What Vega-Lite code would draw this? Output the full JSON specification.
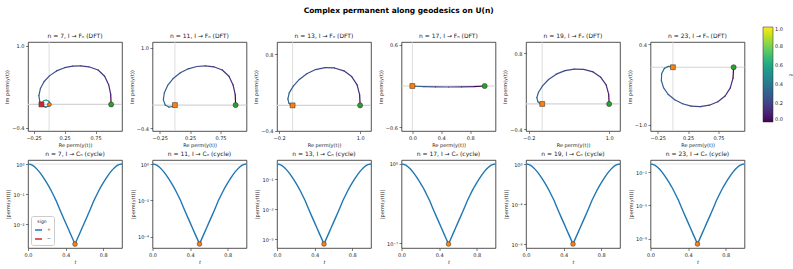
{
"$schema": "https://vega.github.io/schema/vega-lite/v6.json",
"padding": {"left": 4, "top": 7, "right": 2, "bottom": 2},
"title": {"text": "Complex permanent along geodesics on U(n)", "fontSize": 7.5, "fontWeight": "bold", "anchor": "middle", "offset": 12.5, "color": "#000000"},
"datasets": {
"zero": [{"v": 0}],
"dft": [
{"n":7,"t":0,"re":1,"im":0},{"n":7,"t":0.11,"re":0.993,"im":0.17},{"n":7,"t":0.13,"re":0.96,"im":0.335},{"n":7,"t":0.15,"re":0.895,"im":0.48},{"n":7,"t":0.165,"re":0.79,"im":0.585},{"n":7,"t":0.18,"re":0.64,"im":0.64},{"n":7,"t":0.195,"re":0.51,"im":0.655},{"n":7,"t":0.21,"re":0.38,"im":0.652},{"n":7,"t":0.225,"re":0.25,"im":0.625},{"n":7,"t":0.24,"re":0.12,"im":0.57},{"n":7,"t":0.255,"re":0.01,"im":0.49},{"n":7,"t":0.27,"re":-0.08,"im":0.39},{"n":7,"t":0.285,"re":-0.14,"im":0.27},{"n":7,"t":0.3,"re":-0.165,"im":0.15},{"n":7,"t":0.315,"re":-0.15,"im":0.05},{"n":7,"t":0.325,"re":-0.11,"im":-0.02},{"n":7,"t":0.34,"re":-0.055,"im":-0.045},{"n":7,"t":0.37,"re":-0.005,"im":-0.025},{"n":7,"t":0.42,"re":0.015,"im":0.015},{"n":7,"t":0.5,"re":-0.005,"im":0.055},{"n":7,"t":0.58,"re":-0.045,"im":0.075},{"n":7,"t":0.66,"re":-0.085,"im":0.065},{"n":7,"t":0.74,"re":-0.11,"im":0.04},{"n":7,"t":0.82,"re":-0.12,"im":0.018},{"n":7,"t":0.9,"re":-0.123,"im":0.006},{"n":7,"t":1,"re":-0.124,"im":0},
{"n":11,"t":0,"re":1,"im":0},{"n":11,"t":0.11,"re":0.993,"im":0.18},{"n":11,"t":0.13,"re":0.958,"im":0.35},{"n":11,"t":0.15,"re":0.89,"im":0.5},{"n":11,"t":0.17,"re":0.78,"im":0.61},{"n":11,"t":0.19,"re":0.64,"im":0.665},{"n":11,"t":0.21,"re":0.5,"im":0.68},{"n":11,"t":0.23,"re":0.36,"im":0.67},{"n":11,"t":0.25,"re":0.22,"im":0.63},{"n":11,"t":0.27,"re":0.09,"im":0.56},{"n":11,"t":0.29,"re":-0.03,"im":0.46},{"n":11,"t":0.31,"re":-0.12,"im":0.34},{"n":11,"t":0.33,"re":-0.175,"im":0.21},{"n":11,"t":0.35,"re":-0.19,"im":0.09},{"n":11,"t":0.37,"re":-0.16,"im":0},{"n":11,"t":0.39,"re":-0.1,"im":-0.035},{"n":11,"t":0.42,"re":-0.04,"im":-0.025},{"n":11,"t":0.46,"re":-0.005,"im":-0.005},{"n":11,"t":0.52,"re":0,"im":0},
{"n":13,"t":0,"re":1,"im":0},{"n":13,"t":0.11,"re":0.993,"im":0.165},{"n":13,"t":0.13,"re":0.955,"im":0.32},{"n":13,"t":0.15,"re":0.875,"im":0.45},{"n":13,"t":0.17,"re":0.76,"im":0.54},{"n":13,"t":0.19,"re":0.62,"im":0.585},{"n":13,"t":0.21,"re":0.48,"im":0.59},{"n":13,"t":0.23,"re":0.34,"im":0.56},{"n":13,"t":0.25,"re":0.21,"im":0.495},{"n":13,"t":0.27,"re":0.1,"im":0.405},{"n":13,"t":0.29,"re":0.01,"im":0.3},{"n":13,"t":0.31,"re":-0.05,"im":0.195},{"n":13,"t":0.33,"re":-0.07,"im":0.1},{"n":13,"t":0.35,"re":-0.055,"im":0.035},{"n":13,"t":0.37,"re":-0.025,"im":0.005},{"n":13,"t":0.41,"re":0,"im":0},
{"n":17,"t":0,"re":1,"im":0},{"n":17,"t":0.14,"re":0.85,"im":-0.008},{"n":17,"t":0.18,"re":0.68,"im":-0.013},{"n":17,"t":0.22,"re":0.5,"im":-0.015},{"n":17,"t":0.26,"re":0.32,"im":-0.014},{"n":17,"t":0.3,"re":0.16,"im":-0.01},{"n":17,"t":0.35,"re":0.05,"im":-0.004},{"n":17,"t":0.4,"re":0,"im":0},
{"n":19,"t":0,"re":1,"im":0},{"n":19,"t":0.11,"re":0.993,"im":0.155},{"n":19,"t":0.13,"re":0.955,"im":0.3},{"n":19,"t":0.15,"re":0.875,"im":0.42},{"n":19,"t":0.17,"re":0.76,"im":0.505},{"n":19,"t":0.19,"re":0.62,"im":0.545},{"n":19,"t":0.21,"re":0.48,"im":0.55},{"n":19,"t":0.23,"re":0.34,"im":0.525},{"n":19,"t":0.25,"re":0.21,"im":0.47},{"n":19,"t":0.27,"re":0.095,"im":0.385},{"n":19,"t":0.29,"re":0.005,"im":0.285},{"n":19,"t":0.31,"re":-0.055,"im":0.185},{"n":19,"t":0.33,"re":-0.08,"im":0.1},{"n":19,"t":0.35,"re":-0.065,"im":0.035},{"n":19,"t":0.37,"re":-0.03,"im":0.005},{"n":19,"t":0.41,"re":0,"im":0},
{"n":23,"t":0,"re":1,"im":0},{"n":23,"t":0.11,"re":0.99,"im":-0.19},{"n":23,"t":0.13,"re":0.945,"im":-0.36},{"n":23,"t":0.15,"re":0.86,"im":-0.5},{"n":23,"t":0.17,"re":0.74,"im":-0.6},{"n":23,"t":0.19,"re":0.6,"im":-0.66},{"n":23,"t":0.21,"re":0.45,"im":-0.685},{"n":23,"t":0.23,"re":0.3,"im":-0.675},{"n":23,"t":0.25,"re":0.16,"im":-0.635},{"n":23,"t":0.27,"re":0.03,"im":-0.565},{"n":23,"t":0.29,"re":-0.08,"im":-0.47},{"n":23,"t":0.31,"re":-0.155,"im":-0.355},{"n":23,"t":0.33,"re":-0.19,"im":-0.23},{"n":23,"t":0.35,"re":-0.185,"im":-0.11},{"n":23,"t":0.37,"re":-0.14,"im":-0.02},{"n":23,"t":0.39,"re":-0.075,"im":0.015},{"n":23,"t":0.42,"re":-0.02,"im":0.01},{"n":23,"t":0.46,"re":0,"im":0}
],
"mk": [
{"n":7,"kind":"start","re":1,"im":0},{"n":7,"kind":"end","re":-0.124,"im":0},{"n":7,"kind":"mid","re":0.005,"im":0},
{"n":11,"kind":"start","re":1,"im":0},{"n":11,"kind":"end","re":0,"im":0},
{"n":13,"kind":"start","re":1,"im":0},{"n":13,"kind":"end","re":0,"im":0},
{"n":17,"kind":"start","re":1,"im":0},{"n":17,"kind":"end","re":0,"im":0},
{"n":19,"kind":"start","re":1,"im":0},{"n":19,"kind":"end","re":0,"im":0},
{"n":23,"kind":"start","re":1,"im":0},{"n":23,"kind":"end","re":0,"im":0}
],
"cyc": [
{"n":7,"t":0,"lg":0},{"n":7,"t":0.025,"lg":-0.013},{"n":7,"t":0.05,"lg":-0.048},{"n":7,"t":0.075,"lg":-0.107},{"n":7,"t":0.1,"lg":-0.187},{"n":7,"t":0.125,"lg":-0.28},{"n":7,"t":0.15,"lg":-0.387},{"n":7,"t":0.175,"lg":-0.507},{"n":7,"t":0.2,"lg":-0.627},{"n":7,"t":0.225,"lg":-0.761},{"n":7,"t":0.25,"lg":-0.908},{"n":7,"t":0.275,"lg":-1.068},{"n":7,"t":0.3,"lg":-1.228},{"n":7,"t":0.325,"lg":-1.415},{"n":7,"t":0.35,"lg":-1.602},{"n":7,"t":0.375,"lg":-1.781},{"n":7,"t":0.4,"lg":-1.957},{"n":7,"t":0.425,"lg":-2.136},{"n":7,"t":0.45,"lg":-2.315},{"n":7,"t":0.475,"lg":-2.491},{"n":7,"t":0.5,"lg":-2.67},{"n":7,"t":0.525,"lg":-2.491},{"n":7,"t":0.55,"lg":-2.315},{"n":7,"t":0.575,"lg":-2.136},{"n":7,"t":0.6,"lg":-1.957},{"n":7,"t":0.625,"lg":-1.781},{"n":7,"t":0.65,"lg":-1.602},{"n":7,"t":0.675,"lg":-1.415},{"n":7,"t":0.7,"lg":-1.228},{"n":7,"t":0.725,"lg":-1.068},{"n":7,"t":0.75,"lg":-0.908},{"n":7,"t":0.775,"lg":-0.761},{"n":7,"t":0.8,"lg":-0.627},{"n":7,"t":0.825,"lg":-0.507},{"n":7,"t":0.85,"lg":-0.387},{"n":7,"t":0.875,"lg":-0.28},{"n":7,"t":0.9,"lg":-0.187},{"n":7,"t":0.925,"lg":-0.107},{"n":7,"t":0.95,"lg":-0.048},{"n":7,"t":0.975,"lg":-0.013},{"n":7,"t":1,"lg":0},
{"n":11,"t":0,"lg":0},{"n":11,"t":0.025,"lg":-0.022},{"n":11,"t":0.05,"lg":-0.079},{"n":11,"t":0.075,"lg":-0.176},{"n":11,"t":0.1,"lg":-0.308},{"n":11,"t":0.125,"lg":-0.462},{"n":11,"t":0.15,"lg":-0.638},{"n":11,"t":0.175,"lg":-0.836},{"n":11,"t":0.2,"lg":-1.034},{"n":11,"t":0.225,"lg":-1.254},{"n":11,"t":0.25,"lg":-1.496},{"n":11,"t":0.275,"lg":-1.76},{"n":11,"t":0.3,"lg":-2.024},{"n":11,"t":0.325,"lg":-2.332},{"n":11,"t":0.35,"lg":-2.64},{"n":11,"t":0.375,"lg":-2.935},{"n":11,"t":0.4,"lg":-3.225},{"n":11,"t":0.425,"lg":-3.52},{"n":11,"t":0.45,"lg":-3.815},{"n":11,"t":0.475,"lg":-4.105},{"n":11,"t":0.5,"lg":-4.4},{"n":11,"t":0.525,"lg":-4.105},{"n":11,"t":0.55,"lg":-3.815},{"n":11,"t":0.575,"lg":-3.52},{"n":11,"t":0.6,"lg":-3.225},{"n":11,"t":0.625,"lg":-2.935},{"n":11,"t":0.65,"lg":-2.64},{"n":11,"t":0.675,"lg":-2.332},{"n":11,"t":0.7,"lg":-2.024},{"n":11,"t":0.725,"lg":-1.76},{"n":11,"t":0.75,"lg":-1.496},{"n":11,"t":0.775,"lg":-1.254},{"n":11,"t":0.8,"lg":-1.034},{"n":11,"t":0.825,"lg":-0.836},{"n":11,"t":0.85,"lg":-0.638},{"n":11,"t":0.875,"lg":-0.462},{"n":11,"t":0.9,"lg":-0.308},{"n":11,"t":0.925,"lg":-0.176},{"n":11,"t":0.95,"lg":-0.079},{"n":11,"t":0.975,"lg":-0.022},{"n":11,"t":1,"lg":0},
{"n":13,"t":0,"lg":0},{"n":13,"t":0.025,"lg":-0.027},{"n":13,"t":0.05,"lg":-0.095},{"n":13,"t":0.075,"lg":-0.212},{"n":13,"t":0.1,"lg":-0.371},{"n":13,"t":0.125,"lg":-0.557},{"n":13,"t":0.15,"lg":-0.769},{"n":13,"t":0.175,"lg":-1.007},{"n":13,"t":0.2,"lg":-1.246},{"n":13,"t":0.225,"lg":-1.511},{"n":13,"t":0.25,"lg":-1.802},{"n":13,"t":0.275,"lg":-2.12},{"n":13,"t":0.3,"lg":-2.438},{"n":13,"t":0.325,"lg":-2.809},{"n":13,"t":0.35,"lg":-3.18},{"n":13,"t":0.375,"lg":-3.535},{"n":13,"t":0.4,"lg":-3.885},{"n":13,"t":0.425,"lg":-4.24},{"n":13,"t":0.45,"lg":-4.595},{"n":13,"t":0.475,"lg":-4.945},{"n":13,"t":0.5,"lg":-5.3},{"n":13,"t":0.525,"lg":-4.945},{"n":13,"t":0.55,"lg":-4.595},{"n":13,"t":0.575,"lg":-4.24},{"n":13,"t":0.6,"lg":-3.885},{"n":13,"t":0.625,"lg":-3.535},{"n":13,"t":0.65,"lg":-3.18},{"n":13,"t":0.675,"lg":-2.809},{"n":13,"t":0.7,"lg":-2.438},{"n":13,"t":0.725,"lg":-2.12},{"n":13,"t":0.75,"lg":-1.802},{"n":13,"t":0.775,"lg":-1.511},{"n":13,"t":0.8,"lg":-1.246},{"n":13,"t":0.825,"lg":-1.007},{"n":13,"t":0.85,"lg":-0.769},{"n":13,"t":0.875,"lg":-0.557},{"n":13,"t":0.9,"lg":-0.371},{"n":13,"t":0.925,"lg":-0.212},{"n":13,"t":0.95,"lg":-0.095},{"n":13,"t":0.975,"lg":-0.027},{"n":13,"t":1,"lg":0},
{"n":17,"t":0,"lg":0},{"n":17,"t":0.025,"lg":-0.035},{"n":17,"t":0.05,"lg":-0.127},{"n":17,"t":0.075,"lg":-0.282},{"n":17,"t":0.1,"lg":-0.494},{"n":17,"t":0.125,"lg":-0.74},{"n":17,"t":0.15,"lg":-1.022},{"n":17,"t":0.175,"lg":-1.34},{"n":17,"t":0.2,"lg":-1.657},{"n":17,"t":0.225,"lg":-2.009},{"n":17,"t":0.25,"lg":-2.397},{"n":17,"t":0.275,"lg":-2.82},{"n":17,"t":0.3,"lg":-3.243},{"n":17,"t":0.325,"lg":-3.737},{"n":17,"t":0.35,"lg":-4.23},{"n":17,"t":0.375,"lg":-4.702},{"n":17,"t":0.4,"lg":-5.168},{"n":17,"t":0.425,"lg":-5.64},{"n":17,"t":0.45,"lg":-6.112},{"n":17,"t":0.475,"lg":-6.578},{"n":17,"t":0.5,"lg":-7.05},{"n":17,"t":0.525,"lg":-6.578},{"n":17,"t":0.55,"lg":-6.112},{"n":17,"t":0.575,"lg":-5.64},{"n":17,"t":0.6,"lg":-5.168},{"n":17,"t":0.625,"lg":-4.702},{"n":17,"t":0.65,"lg":-4.23},{"n":17,"t":0.675,"lg":-3.737},{"n":17,"t":0.7,"lg":-3.243},{"n":17,"t":0.725,"lg":-2.82},{"n":17,"t":0.75,"lg":-2.397},{"n":17,"t":0.775,"lg":-2.009},{"n":17,"t":0.8,"lg":-1.657},{"n":17,"t":0.825,"lg":-1.34},{"n":17,"t":0.85,"lg":-1.022},{"n":17,"t":0.875,"lg":-0.74},{"n":17,"t":0.9,"lg":-0.494},{"n":17,"t":0.925,"lg":-0.282},{"n":17,"t":0.95,"lg":-0.127},{"n":17,"t":0.975,"lg":-0.035},{"n":17,"t":1,"lg":0},
{"n":19,"t":0,"lg":0},{"n":19,"t":0.025,"lg":-0.04},{"n":19,"t":0.05,"lg":-0.143},{"n":19,"t":0.075,"lg":-0.318},{"n":19,"t":0.1,"lg":-0.557},{"n":19,"t":0.125,"lg":-0.835},{"n":19,"t":0.15,"lg":-1.153},{"n":19,"t":0.175,"lg":-1.511},{"n":19,"t":0.2,"lg":-1.868},{"n":19,"t":0.225,"lg":-2.266},{"n":19,"t":0.25,"lg":-2.703},{"n":19,"t":0.275,"lg":-3.18},{"n":19,"t":0.3,"lg":-3.657},{"n":19,"t":0.325,"lg":-4.214},{"n":19,"t":0.35,"lg":-4.77},{"n":19,"t":0.375,"lg":-5.303},{"n":19,"t":0.4,"lg":-5.827},{"n":19,"t":0.425,"lg":-6.36},{"n":19,"t":0.45,"lg":-6.893},{"n":19,"t":0.475,"lg":-7.417},{"n":19,"t":0.5,"lg":-7.95},{"n":19,"t":0.525,"lg":-7.417},{"n":19,"t":0.55,"lg":-6.893},{"n":19,"t":0.575,"lg":-6.36},{"n":19,"t":0.6,"lg":-5.827},{"n":19,"t":0.625,"lg":-5.303},{"n":19,"t":0.65,"lg":-4.77},{"n":19,"t":0.675,"lg":-4.214},{"n":19,"t":0.7,"lg":-3.657},{"n":19,"t":0.725,"lg":-3.18},{"n":19,"t":0.75,"lg":-2.703},{"n":19,"t":0.775,"lg":-2.266},{"n":19,"t":0.8,"lg":-1.868},{"n":19,"t":0.825,"lg":-1.511},{"n":19,"t":0.85,"lg":-1.153},{"n":19,"t":0.875,"lg":-0.835},{"n":19,"t":0.9,"lg":-0.557},{"n":19,"t":0.925,"lg":-0.318},{"n":19,"t":0.95,"lg":-0.143},{"n":19,"t":0.975,"lg":-0.04},{"n":19,"t":1,"lg":0},
{"n":23,"t":0,"lg":0},{"n":23,"t":0.025,"lg":-0.048},{"n":23,"t":0.05,"lg":-0.174},{"n":23,"t":0.075,"lg":-0.386},{"n":23,"t":0.1,"lg":-0.676},{"n":23,"t":0.125,"lg":-1.013},{"n":23,"t":0.15,"lg":-1.399},{"n":23,"t":0.175,"lg":-1.834},{"n":23,"t":0.2,"lg":-2.268},{"n":23,"t":0.225,"lg":-2.75},{"n":23,"t":0.25,"lg":-3.281},{"n":23,"t":0.275,"lg":-3.86},{"n":23,"t":0.3,"lg":-4.439},{"n":23,"t":0.325,"lg":-5.115},{"n":23,"t":0.35,"lg":-5.79},{"n":23,"t":0.375,"lg":-6.437},{"n":23,"t":0.4,"lg":-7.073},{"n":23,"t":0.425,"lg":-7.72},{"n":23,"t":0.45,"lg":-8.367},{"n":23,"t":0.475,"lg":-9.003},{"n":23,"t":0.5,"lg":-9.65},{"n":23,"t":0.525,"lg":-9.003},{"n":23,"t":0.55,"lg":-8.367},{"n":23,"t":0.575,"lg":-7.72},{"n":23,"t":0.6,"lg":-7.073},{"n":23,"t":0.625,"lg":-6.437},{"n":23,"t":0.65,"lg":-5.79},{"n":23,"t":0.675,"lg":-5.115},{"n":23,"t":0.7,"lg":-4.439},{"n":23,"t":0.725,"lg":-3.86},{"n":23,"t":0.75,"lg":-3.281},{"n":23,"t":0.775,"lg":-2.75},{"n":23,"t":0.8,"lg":-2.268},{"n":23,"t":0.825,"lg":-1.834},{"n":23,"t":0.85,"lg":-1.399},{"n":23,"t":0.875,"lg":-1.013},{"n":23,"t":0.9,"lg":-0.676},{"n":23,"t":0.925,"lg":-0.386},{"n":23,"t":0.95,"lg":-0.174},{"n":23,"t":0.975,"lg":-0.048},{"n":23,"t":1,"lg":0}
]
},
"columns": 6,
"spacing": {"row": 29, "column": 30.5},
"bounds": "flush",
"concat": [
{"width": 94, "height": 89, "title": "n = 7, I → Fₙ (DFT)",
 "layer": [
  {"data": {"name": "zero"}, "mark": {"type": "rule", "color": "#d4d4d4", "strokeWidth": 1.2}, "encoding": {"y": {"field": "v", "type": "quantitative"}}},
  {"data": {"name": "zero"}, "mark": {"type": "rule", "color": "#d4d4d4", "strokeWidth": 0.8}, "encoding": {"x": {"field": "v", "type": "quantitative"}}},
  {"data": {"name": "dft"}, "transform": [{"filter": "datum.n == 7"}, {"window": [{"op": "lead", "field": "re", "as": "re2"}, {"op": "lead", "field": "im", "as": "im2"}], "sort": [{"field": "t"}]}, {"filter": "datum.re2 != null"}],
   "mark": {"type": "rule", "strokeWidth": 1.2, "strokeCap": "round"},
   "encoding": {
    "x": {"field": "re", "type": "quantitative", "scale": {"domain": [-0.34, 1.175], "nice": false, "zero": false}, "axis": {"title": "Re perm(y(t))", "values": [-0.25, 0, 0.25, 0.5, 0.75, 1], "format": ".2f", "labelOverlap": false}},
    "y": {"field": "im", "type": "quantitative", "scale": {"domain": [-0.452, 1.062], "nice": false, "zero": false}, "axis": {"title": "Im perm(y(t))", "values": [-0.4, -0.2, 0, 0.2, 0.4, 0.6, 0.8, 1], "format": ".1f", "labelOverlap": false}},
    "x2": {"field": "re2"}, "y2": {"field": "im2"},
    "color": {"field": "t", "type": "quantitative", "scale": {"scheme": "viridis", "domain": [0, 1]}, "legend": {"title": "t", "orient": "none", "legendX": 735, "legendY": -15, "direction": "vertical", "gradientLength": 95, "gradientThickness": 10, "values": [0, 0.2, 0.4, 0.6, 0.8, 1], "format": ".1f", "labelFontSize": 5, "titleFontSize": 5.5, "titleFontStyle": "italic", "titleFontWeight": "normal", "titleOrient": "right", "gradientStrokeColor": "#262626", "gradientStrokeWidth": 0.5, "labelOverlap": false}}
   }},
  {"data": {"name": "mk"}, "transform": [{"filter": "datum.n == 7 && datum.kind == 'mid'"}], "mark": {"type": "point", "shape": "circle", "filled": true, "fill": "#ff7f0e", "stroke": "#262626", "strokeWidth": 0.5, "size": 16, "opacity": 1}, "encoding": {"x": {"field": "re", "type": "quantitative"}, "y": {"field": "im", "type": "quantitative"}}},
  {"data": {"name": "mk"}, "transform": [{"filter": "datum.n == 7 && datum.kind == 'end'"}], "mark": {"type": "point", "shape": "square", "filled": true, "fill": "#d62728", "stroke": "#262626", "strokeWidth": 0.5, "size": 24, "opacity": 1}, "encoding": {"x": {"field": "re", "type": "quantitative"}, "y": {"field": "im", "type": "quantitative"}}},
  {"data": {"name": "mk"}, "transform": [{"filter": "datum.n == 7 && datum.kind == 'start'"}], "mark": {"type": "point", "shape": "circle", "filled": true, "fill": "#2ca02c", "stroke": "#262626", "strokeWidth": 0.5, "size": 26, "opacity": 1}, "encoding": {"x": {"field": "re", "type": "quantitative"}, "y": {"field": "im", "type": "quantitative"}}}
 ]},
{"width": 94, "height": 89, "title": "n = 11, I → Fₙ (DFT)",
 "layer": [
  {"data": {"name": "zero"}, "mark": {"type": "rule", "color": "#d4d4d4", "strokeWidth": 1.2}, "encoding": {"y": {"field": "v", "type": "quantitative"}}},
  {"data": {"name": "zero"}, "mark": {"type": "rule", "color": "#d4d4d4", "strokeWidth": 0.8}, "encoding": {"x": {"field": "v", "type": "quantitative"}}},
  {"data": {"name": "dft"}, "transform": [{"filter": "datum.n == 11"}, {"window": [{"op": "lead", "field": "re", "as": "re2"}, {"op": "lead", "field": "im", "as": "im2"}], "sort": [{"field": "t"}]}, {"filter": "datum.re2 != null"}],
   "mark": {"type": "rule", "strokeWidth": 1.2, "strokeCap": "round"},
   "encoding": {
    "x": {"field": "re", "type": "quantitative", "scale": {"domain": [-0.369, 1.179], "nice": false, "zero": false}, "axis": {"title": "Re perm(y(t))", "values": [-0.25, 0, 0.25, 0.5, 0.75, 1], "format": ".2f", "labelOverlap": false}},
    "y": {"field": "im", "type": "quantitative", "scale": {"domain": [-0.451, 1.096], "nice": false, "zero": false}, "axis": {"title": "Im perm(y(t))", "values": [-0.4, -0.2, 0, 0.2, 0.4, 0.6, 0.8, 1], "format": ".1f", "labelOverlap": false}},
    "x2": {"field": "re2"}, "y2": {"field": "im2"},
    "color": {"field": "t", "type": "quantitative", "scale": {"scheme": "viridis", "domain": [0, 1]}, "legend": {"title": "t", "orient": "none", "legendX": 735, "legendY": -15, "direction": "vertical", "gradientLength": 95, "gradientThickness": 10, "values": [0, 0.2, 0.4, 0.6, 0.8, 1], "format": ".1f", "labelFontSize": 5, "titleFontSize": 5.5, "titleFontStyle": "italic", "titleFontWeight": "normal", "titleOrient": "right", "gradientStrokeColor": "#262626", "gradientStrokeWidth": 0.5, "labelOverlap": false}}
   }},
  {"data": {"name": "mk"}, "transform": [{"filter": "datum.n == 11 && datum.kind == 'end'"}], "mark": {"type": "point", "shape": "square", "filled": true, "fill": "#ff7f0e", "stroke": "#262626", "strokeWidth": 0.5, "size": 24, "opacity": 1}, "encoding": {"x": {"field": "re", "type": "quantitative"}, "y": {"field": "im", "type": "quantitative"}}},
  {"data": {"name": "mk"}, "transform": [{"filter": "datum.n == 11 && datum.kind == 'start'"}], "mark": {"type": "point", "shape": "circle", "filled": true, "fill": "#2ca02c", "stroke": "#262626", "strokeWidth": 0.5, "size": 26, "opacity": 1}, "encoding": {"x": {"field": "re", "type": "quantitative"}, "y": {"field": "im", "type": "quantitative"}}}
 ]},
{"width": 94, "height": 89, "title": "n = 13, I → Fₙ (DFT)",
 "layer": [
  {"data": {"name": "zero"}, "mark": {"type": "rule", "color": "#d4d4d4", "strokeWidth": 1.2}, "encoding": {"y": {"field": "v", "type": "quantitative"}}},
  {"data": {"name": "zero"}, "mark": {"type": "rule", "color": "#d4d4d4", "strokeWidth": 0.8}, "encoding": {"x": {"field": "v", "type": "quantitative"}}},
  {"data": {"name": "dft"}, "transform": [{"filter": "datum.n == 13"}, {"window": [{"op": "lead", "field": "re", "as": "re2"}, {"op": "lead", "field": "im", "as": "im2"}], "sort": [{"field": "t"}]}, {"filter": "datum.re2 != null"}],
   "mark": {"type": "rule", "strokeWidth": 1.2, "strokeCap": "round"},
   "encoding": {
    "x": {"field": "re", "type": "quantitative", "scale": {"domain": [-0.231, 1.161], "nice": false, "zero": false}, "axis": {"title": "Re perm(y(t))", "values": [-0.2, 0, 0.2, 0.4, 0.6, 0.8, 1], "format": ".1f", "labelOverlap": false}},
    "y": {"field": "im", "type": "quantitative", "scale": {"domain": [-0.401, 0.991], "nice": false, "zero": false}, "axis": {"title": "Im perm(y(t))", "values": [-0.4, -0.2, 0, 0.2, 0.4, 0.6, 0.8], "format": ".1f", "labelOverlap": false}},
    "x2": {"field": "re2"}, "y2": {"field": "im2"},
    "color": {"field": "t", "type": "quantitative", "scale": {"scheme": "viridis", "domain": [0, 1]}, "legend": {"title": "t", "orient": "none", "legendX": 735, "legendY": -15, "direction": "vertical", "gradientLength": 95, "gradientThickness": 10, "values": [0, 0.2, 0.4, 0.6, 0.8, 1], "format": ".1f", "labelFontSize": 5, "titleFontSize": 5.5, "titleFontStyle": "italic", "titleFontWeight": "normal", "titleOrient": "right", "gradientStrokeColor": "#262626", "gradientStrokeWidth": 0.5, "labelOverlap": false}}
   }},
  {"data": {"name": "mk"}, "transform": [{"filter": "datum.n == 13 && datum.kind == 'end'"}], "mark": {"type": "point", "shape": "square", "filled": true, "fill": "#ff7f0e", "stroke": "#262626", "strokeWidth": 0.5, "size": 24, "opacity": 1}, "encoding": {"x": {"field": "re", "type": "quantitative"}, "y": {"field": "im", "type": "quantitative"}}},
  {"data": {"name": "mk"}, "transform": [{"filter": "datum.n == 13 && datum.kind == 'start'"}], "mark": {"type": "point", "shape": "circle", "filled": true, "fill": "#2ca02c", "stroke": "#262626", "strokeWidth": 0.5, "size": 26, "opacity": 1}, "encoding": {"x": {"field": "re", "type": "quantitative"}, "y": {"field": "im", "type": "quantitative"}}}
 ]},
{"width": 94, "height": 89, "title": "n = 17, I → Fₙ (DFT)",
 "layer": [
  {"data": {"name": "zero"}, "mark": {"type": "rule", "color": "#d4d4d4", "strokeWidth": 1.2}, "encoding": {"y": {"field": "v", "type": "quantitative"}}},
  {"data": {"name": "zero"}, "mark": {"type": "rule", "color": "#d4d4d4", "strokeWidth": 0.8}, "encoding": {"x": {"field": "v", "type": "quantitative"}}},
  {"data": {"name": "dft"}, "transform": [{"filter": "datum.n == 17"}, {"window": [{"op": "lead", "field": "re", "as": "re2"}, {"op": "lead", "field": "im", "as": "im2"}], "sort": [{"field": "t"}]}, {"filter": "datum.re2 != null"}],
   "mark": {"type": "rule", "strokeWidth": 1.2, "strokeCap": "round"},
   "encoding": {
    "x": {"field": "re", "type": "quantitative", "scale": {"domain": [-0.15, 1.15], "nice": false, "zero": false}, "axis": {"title": "Re perm(y(t))", "values": [0, 0.2, 0.4, 0.6, 0.8, 1], "format": ".1f", "labelOverlap": false}},
    "y": {"field": "im", "type": "quantitative", "scale": {"domain": [-0.6575, 0.6425], "nice": false, "zero": false}, "axis": {"title": "Im perm(y(t))", "values": [-0.6, -0.4, -0.2, 0, 0.2, 0.4, 0.6], "format": ".1f", "labelOverlap": false}},
    "x2": {"field": "re2"}, "y2": {"field": "im2"},
    "color": {"field": "t", "type": "quantitative", "scale": {"scheme": "viridis", "domain": [0, 1]}, "legend": {"title": "t", "orient": "none", "legendX": 735, "legendY": -15, "direction": "vertical", "gradientLength": 95, "gradientThickness": 10, "values": [0, 0.2, 0.4, 0.6, 0.8, 1], "format": ".1f", "labelFontSize": 5, "titleFontSize": 5.5, "titleFontStyle": "italic", "titleFontWeight": "normal", "titleOrient": "right", "gradientStrokeColor": "#262626", "gradientStrokeWidth": 0.5, "labelOverlap": false}}
   }},
  {"data": {"name": "mk"}, "transform": [{"filter": "datum.n == 17 && datum.kind == 'end'"}], "mark": {"type": "point", "shape": "square", "filled": true, "fill": "#ff7f0e", "stroke": "#262626", "strokeWidth": 0.5, "size": 24, "opacity": 1}, "encoding": {"x": {"field": "re", "type": "quantitative"}, "y": {"field": "im", "type": "quantitative"}}},
  {"data": {"name": "mk"}, "transform": [{"filter": "datum.n == 17 && datum.kind == 'start'"}], "mark": {"type": "point", "shape": "circle", "filled": true, "fill": "#2ca02c", "stroke": "#262626", "strokeWidth": 0.5, "size": 26, "opacity": 1}, "encoding": {"x": {"field": "re", "type": "quantitative"}, "y": {"field": "im", "type": "quantitative"}}}
 ]},
{"width": 94, "height": 89, "title": "n = 19, I → Fₙ (DFT)",
 "layer": [
  {"data": {"name": "zero"}, "mark": {"type": "rule", "color": "#d4d4d4", "strokeWidth": 1.2}, "encoding": {"y": {"field": "v", "type": "quantitative"}}},
  {"data": {"name": "zero"}, "mark": {"type": "rule", "color": "#d4d4d4", "strokeWidth": 0.8}, "encoding": {"x": {"field": "v", "type": "quantitative"}}},
  {"data": {"name": "dft"}, "transform": [{"filter": "datum.n == 19"}, {"window": [{"op": "lead", "field": "re", "as": "re2"}, {"op": "lead", "field": "im", "as": "im2"}], "sort": [{"field": "t"}]}, {"filter": "datum.re2 != null"}],
   "mark": {"type": "rule", "strokeWidth": 1.2, "strokeCap": "round"},
   "encoding": {
    "x": {"field": "re", "type": "quantitative", "scale": {"domain": [-0.242, 1.162], "nice": false, "zero": false}, "axis": {"title": "Re perm(y(t))", "values": [-0.2, 0, 0.2, 0.4, 0.6, 0.8, 1], "format": ".1f", "labelOverlap": false}},
    "y": {"field": "im", "type": "quantitative", "scale": {"domain": [-0.427, 0.977], "nice": false, "zero": false}, "axis": {"title": "Im perm(y(t))", "values": [-0.4, -0.2, 0, 0.2, 0.4, 0.6, 0.8], "format": ".1f", "labelOverlap": false}},
    "x2": {"field": "re2"}, "y2": {"field": "im2"},
    "color": {"field": "t", "type": "quantitative", "scale": {"scheme": "viridis", "domain": [0, 1]}, "legend": {"title": "t", "orient": "none", "legendX": 735, "legendY": -15, "direction": "vertical", "gradientLength": 95, "gradientThickness": 10, "values": [0, 0.2, 0.4, 0.6, 0.8, 1], "format": ".1f", "labelFontSize": 5, "titleFontSize": 5.5, "titleFontStyle": "italic", "titleFontWeight": "normal", "titleOrient": "right", "gradientStrokeColor": "#262626", "gradientStrokeWidth": 0.5, "labelOverlap": false}}
   }},
  {"data": {"name": "mk"}, "transform": [{"filter": "datum.n == 19 && datum.kind == 'end'"}], "mark": {"type": "point", "shape": "square", "filled": true, "fill": "#ff7f0e", "stroke": "#262626", "strokeWidth": 0.5, "size": 24, "opacity": 1}, "encoding": {"x": {"field": "re", "type": "quantitative"}, "y": {"field": "im", "type": "quantitative"}}},
  {"data": {"name": "mk"}, "transform": [{"filter": "datum.n == 19 && datum.kind == 'start'"}], "mark": {"type": "point", "shape": "circle", "filled": true, "fill": "#2ca02c", "stroke": "#262626", "strokeWidth": 0.5, "size": 26, "opacity": 1}, "encoding": {"x": {"field": "re", "type": "quantitative"}, "y": {"field": "im", "type": "quantitative"}}}
 ]},
{"width": 94, "height": 89, "title": "n = 23, I → Fₙ (DFT)",
 "layer": [
  {"data": {"name": "zero"}, "mark": {"type": "rule", "color": "#d4d4d4", "strokeWidth": 1.2}, "encoding": {"y": {"field": "v", "type": "quantitative"}}},
  {"data": {"name": "zero"}, "mark": {"type": "rule", "color": "#d4d4d4", "strokeWidth": 0.8}, "encoding": {"x": {"field": "v", "type": "quantitative"}}},
  {"data": {"name": "dft"}, "transform": [{"filter": "datum.n == 23"}, {"window": [{"op": "lead", "field": "re", "as": "re2"}, {"op": "lead", "field": "im", "as": "im2"}], "sort": [{"field": "t"}]}, {"filter": "datum.re2 != null"}],
   "mark": {"type": "rule", "strokeWidth": 1.2, "strokeCap": "round"},
   "encoding": {
    "x": {"field": "re", "type": "quantitative", "scale": {"domain": [-0.369, 1.179], "nice": false, "zero": false}, "axis": {"title": "Re perm(y(t))", "values": [-0.25, 0, 0.25, 0.5, 0.75, 1], "format": ".2f", "labelOverlap": false}},
    "y": {"field": "im", "type": "quantitative", "scale": {"domain": [-1.1085, 0.4385], "nice": false, "zero": false}, "axis": {"title": "Im perm(y(t))", "values": [-1, -0.8, -0.6, -0.4, -0.2, 0, 0.2, 0.4], "format": ".1f", "labelOverlap": false}},
    "x2": {"field": "re2"}, "y2": {"field": "im2"},
    "color": {"field": "t", "type": "quantitative", "scale": {"scheme": "viridis", "domain": [0, 1]}, "legend": {"title": "t", "orient": "none", "legendX": 735, "legendY": -15, "direction": "vertical", "gradientLength": 95, "gradientThickness": 10, "values": [0, 0.2, 0.4, 0.6, 0.8, 1], "format": ".1f", "labelFontSize": 5, "titleFontSize": 5.5, "titleFontStyle": "italic", "titleFontWeight": "normal", "titleOrient": "right", "gradientStrokeColor": "#262626", "gradientStrokeWidth": 0.5, "labelOverlap": false}}
   }},
  {"data": {"name": "mk"}, "transform": [{"filter": "datum.n == 23 && datum.kind == 'end'"}], "mark": {"type": "point", "shape": "square", "filled": true, "fill": "#ff7f0e", "stroke": "#262626", "strokeWidth": 0.5, "size": 24, "opacity": 1}, "encoding": {"x": {"field": "re", "type": "quantitative"}, "y": {"field": "im", "type": "quantitative"}}},
  {"data": {"name": "mk"}, "transform": [{"filter": "datum.n == 23 && datum.kind == 'start'"}], "mark": {"type": "point", "shape": "circle", "filled": true, "fill": "#2ca02c", "stroke": "#262626", "strokeWidth": 0.5, "size": 26, "opacity": 1}, "encoding": {"x": {"field": "re", "type": "quantitative"}, "y": {"field": "im", "type": "quantitative"}}}
 ]},
{"width": 94, "height": 88, "title": "n = 7, I → Cₙ (cycle)",
 "layer": [
  {"data": {"name": "zero"}, "mark": {"type": "rule", "color": "#dcdcdc", "strokeWidth": 0.8}, "encoding": {"y": {"field": "v", "type": "quantitative"}}},
  {"data": {"name": "cyc"}, "transform": [{"filter": "datum.n == 7"}], "mark": {"type": "line", "strokeWidth": 1.4},
   "encoding": {
    "x": {"field": "t", "type": "quantitative", "scale": {"domain": [0, 1], "nice": false, "zero": false}, "axis": {"title": "t", "titleFontStyle": "italic", "values": [0, 0.2, 0.4, 0.6, 0.8, 1], "format": ".1f", "labelOverlap": false}},
    "y": {"field": "lg", "type": "quantitative", "scale": {"domain": [-2.8, 0.134], "nice": false, "zero": false}, "axis": {"title": "|perm(y(t))|", "values": [0, -1, -2], "labelOverlap": false, "labelExpr": "'10' + (datum.value < 0 ? '⁻' : '') + ['⁰','¹','²','³','⁴','⁵','⁶','⁷','⁸','⁹'][abs(round(datum.value))]"}},
    "stroke": {"datum": "+", "type": "nominal", "scale": {"domain": ["+", "−"], "range": ["#1f77b4", "#d62728"]}, "legend": {"title": "sign", "orient": "bottom-left", "offset": 3, "symbolType": "stroke", "symbolStrokeWidth": 1.5, "symbolSize": 50, "labelFontSize": 4.5, "titleFontSize": 4.5, "titleFontWeight": "normal", "strokeColor": "#cccccc", "fillColor": "#ffffff", "padding": 3, "cornerRadius": 2, "titleAnchor": "middle", "rowPadding": 1, "titlePadding": 2}}
   }},
  {"data": {"name": "cyc"}, "transform": [{"filter": "datum.n == 7 && datum.t == 0.5"}], "mark": {"type": "point", "shape": "circle", "filled": true, "fill": "#ff7f0e", "stroke": "#262626", "strokeWidth": 0.5, "size": 22, "opacity": 1}, "encoding": {"x": {"field": "t", "type": "quantitative"}, "y": {"field": "lg", "type": "quantitative"}}}
 ]},
{"width": 94, "height": 88, "title": "n = 11, I → Cₙ (cycle)",
 "layer": [
  {"data": {"name": "zero"}, "mark": {"type": "rule", "color": "#dcdcdc", "strokeWidth": 0.8}, "encoding": {"y": {"field": "v", "type": "quantitative"}}},
  {"data": {"name": "cyc"}, "transform": [{"filter": "datum.n == 11"}], "mark": {"type": "line", "strokeWidth": 1.4, "color": "#1f77b4"},
   "encoding": {
    "x": {"field": "t", "type": "quantitative", "scale": {"domain": [0, 1], "nice": false, "zero": false}, "axis": {"title": "t", "titleFontStyle": "italic", "values": [0, 0.2, 0.4, 0.6, 0.8, 1], "format": ".1f", "labelOverlap": false}},
    "y": {"field": "lg", "type": "quantitative", "scale": {"domain": [-4.62, 0.22], "nice": false, "zero": false}, "axis": {"title": "|perm(y(t))|", "values": [0, -1, -2, -3, -4], "labelOverlap": false, "labelExpr": "'10' + (datum.value < 0 ? '⁻' : '') + ['⁰','¹','²','³','⁴','⁵','⁶','⁷','⁸','⁹'][abs(round(datum.value))]"}}
   }},
  {"data": {"name": "cyc"}, "transform": [{"filter": "datum.n == 11 && datum.t == 0.5"}], "mark": {"type": "point", "shape": "circle", "filled": true, "fill": "#ff7f0e", "stroke": "#262626", "strokeWidth": 0.5, "size": 22, "opacity": 1}, "encoding": {"x": {"field": "t", "type": "quantitative"}, "y": {"field": "lg", "type": "quantitative"}}}
 ]},
{"width": 94, "height": 88, "title": "n = 13, I → Cₙ (cycle)",
 "layer": [
  {"data": {"name": "zero"}, "mark": {"type": "rule", "color": "#dcdcdc", "strokeWidth": 0.8}, "encoding": {"y": {"field": "v", "type": "quantitative"}}},
  {"data": {"name": "cyc"}, "transform": [{"filter": "datum.n == 13"}], "mark": {"type": "line", "strokeWidth": 1.4, "color": "#1f77b4"},
   "encoding": {
    "x": {"field": "t", "type": "quantitative", "scale": {"domain": [0, 1], "nice": false, "zero": false}, "axis": {"title": "t", "titleFontStyle": "italic", "values": [0, 0.2, 0.4, 0.6, 0.8, 1], "format": ".1f", "labelOverlap": false}},
    "y": {"field": "lg", "type": "quantitative", "scale": {"domain": [-5.565, 0.265], "nice": false, "zero": false}, "axis": {"title": "|perm(y(t))|", "values": [0, -1, -2, -3, -4, -5], "labelOverlap": false, "labelExpr": "'10' + (datum.value < 0 ? '⁻' : '') + ['⁰','¹','²','³','⁴','⁵','⁶','⁷','⁸','⁹'][abs(round(datum.value))]"}}
   }},
  {"data": {"name": "cyc"}, "transform": [{"filter": "datum.n == 13 && datum.t == 0.5"}], "mark": {"type": "point", "shape": "circle", "filled": true, "fill": "#ff7f0e", "stroke": "#262626", "strokeWidth": 0.5, "size": 22, "opacity": 1}, "encoding": {"x": {"field": "t", "type": "quantitative"}, "y": {"field": "lg", "type": "quantitative"}}}
 ]},
{"width": 94, "height": 88, "title": "n = 17, I → Cₙ (cycle)",
 "layer": [
  {"data": {"name": "zero"}, "mark": {"type": "rule", "color": "#dcdcdc", "strokeWidth": 0.8}, "encoding": {"y": {"field": "v", "type": "quantitative"}}},
  {"data": {"name": "cyc"}, "transform": [{"filter": "datum.n == 17"}], "mark": {"type": "line", "strokeWidth": 1.4, "color": "#1f77b4"},
   "encoding": {
    "x": {"field": "t", "type": "quantitative", "scale": {"domain": [0, 1], "nice": false, "zero": false}, "axis": {"title": "t", "titleFontStyle": "italic", "values": [0, 0.2, 0.4, 0.6, 0.8, 1], "format": ".1f", "labelOverlap": false}},
    "y": {"field": "lg", "type": "quantitative", "scale": {"domain": [-7.4, 0.35], "nice": false, "zero": false}, "axis": {"title": "|perm(y(t))|", "values": [0, -1, -2, -3, -4, -5, -6, -7], "labelOverlap": false, "labelExpr": "'10' + (datum.value < 0 ? '⁻' : '') + ['⁰','¹','²','³','⁴','⁵','⁶','⁷','⁸','⁹'][abs(round(datum.value))]"}}
   }},
  {"data": {"name": "cyc"}, "transform": [{"filter": "datum.n == 17 && datum.t == 0.5"}], "mark": {"type": "point", "shape": "circle", "filled": true, "fill": "#ff7f0e", "stroke": "#262626", "strokeWidth": 0.5, "size": 22, "opacity": 1}, "encoding": {"x": {"field": "t", "type": "quantitative"}, "y": {"field": "lg", "type": "quantitative"}}}
 ]},
{"width": 94, "height": 88, "title": "n = 19, I → Cₙ (cycle)",
 "layer": [
  {"data": {"name": "zero"}, "mark": {"type": "rule", "color": "#dcdcdc", "strokeWidth": 0.8}, "encoding": {"y": {"field": "v", "type": "quantitative"}}},
  {"data": {"name": "cyc"}, "transform": [{"filter": "datum.n == 19"}], "mark": {"type": "line", "strokeWidth": 1.4, "color": "#1f77b4"},
   "encoding": {
    "x": {"field": "t", "type": "quantitative", "scale": {"domain": [0, 1], "nice": false, "zero": false}, "axis": {"title": "t", "titleFontStyle": "italic", "values": [0, 0.2, 0.4, 0.6, 0.8, 1], "format": ".1f", "labelOverlap": false}},
    "y": {"field": "lg", "type": "quantitative", "scale": {"domain": [-8.35, 0.4], "nice": false, "zero": false}, "axis": {"title": "|perm(y(t))|", "values": [0, -1, -2, -3, -4, -5, -6, -7, -8], "labelOverlap": false, "labelExpr": "'10' + (datum.value < 0 ? '⁻' : '') + ['⁰','¹','²','³','⁴','⁵','⁶','⁷','⁸','⁹'][abs(round(datum.value))]"}}
   }},
  {"data": {"name": "cyc"}, "transform": [{"filter": "datum.n == 19 && datum.t == 0.5"}], "mark": {"type": "point", "shape": "circle", "filled": true, "fill": "#ff7f0e", "stroke": "#262626", "strokeWidth": 0.5, "size": 22, "opacity": 1}, "encoding": {"x": {"field": "t", "type": "quantitative"}, "y": {"field": "lg", "type": "quantitative"}}}
 ]},
{"width": 94, "height": 88, "title": "n = 23, I → Cₙ (cycle)",
 "layer": [
  {"data": {"name": "zero"}, "mark": {"type": "rule", "color": "#dcdcdc", "strokeWidth": 0.8}, "encoding": {"y": {"field": "v", "type": "quantitative"}}},
  {"data": {"name": "cyc"}, "transform": [{"filter": "datum.n == 23"}], "mark": {"type": "line", "strokeWidth": 1.4, "color": "#1f77b4"},
   "encoding": {
    "x": {"field": "t", "type": "quantitative", "scale": {"domain": [0, 1], "nice": false, "zero": false}, "axis": {"title": "t", "titleFontStyle": "italic", "values": [0, 0.2, 0.4, 0.6, 0.8, 1], "format": ".1f", "labelOverlap": false}},
    "y": {"field": "lg", "type": "quantitative", "scale": {"domain": [-10.13, 0.48], "nice": false, "zero": false}, "axis": {"title": "|perm(y(t))|", "values": [-1, -3, -5, -7, -9], "labelOverlap": false, "labelExpr": "'10' + (datum.value < 0 ? '⁻' : '') + ['⁰','¹','²','³','⁴','⁵','⁶','⁷','⁸','⁹'][abs(round(datum.value))]"}}
   }},
  {"data": {"name": "cyc"}, "transform": [{"filter": "datum.n == 23 && datum.t == 0.5"}], "mark": {"type": "point", "shape": "circle", "filled": true, "fill": "#ff7f0e", "stroke": "#262626", "strokeWidth": 0.5, "size": 22, "opacity": 1}, "encoding": {"x": {"field": "t", "type": "quantitative"}, "y": {"field": "lg", "type": "quantitative"}}}
 ]}
],
"resolve": {"scale": {"x": "independent", "y": "independent", "color": "shared", "stroke": "independent"}, "axis": {"x": "independent", "y": "independent"}, "legend": {"color": "shared", "stroke": "independent"}},
"config": {
 "font": "DejaVu Sans",
 "view": {"stroke": "#262626", "strokeWidth": 0.8},
 "axis": {"domain": false, "grid": false, "tickSize": 2.5, "tickWidth": 0.6, "tickColor": "#262626", "labelFontSize": 5, "labelColor": "#1a1a1a", "labelPadding": 1.5, "titleFontSize": 5, "titleFontWeight": "normal", "titleColor": "#1a1a1a", "titlePadding": 2, "labelOverlap": false, "labelFlush": false},
 "title": {"fontSize": 6, "fontWeight": "normal", "offset": 3, "color": "#1a1a1a"},
 "legend": {"labelColor": "#1a1a1a", "titleColor": "#1a1a1a"}
}
}
